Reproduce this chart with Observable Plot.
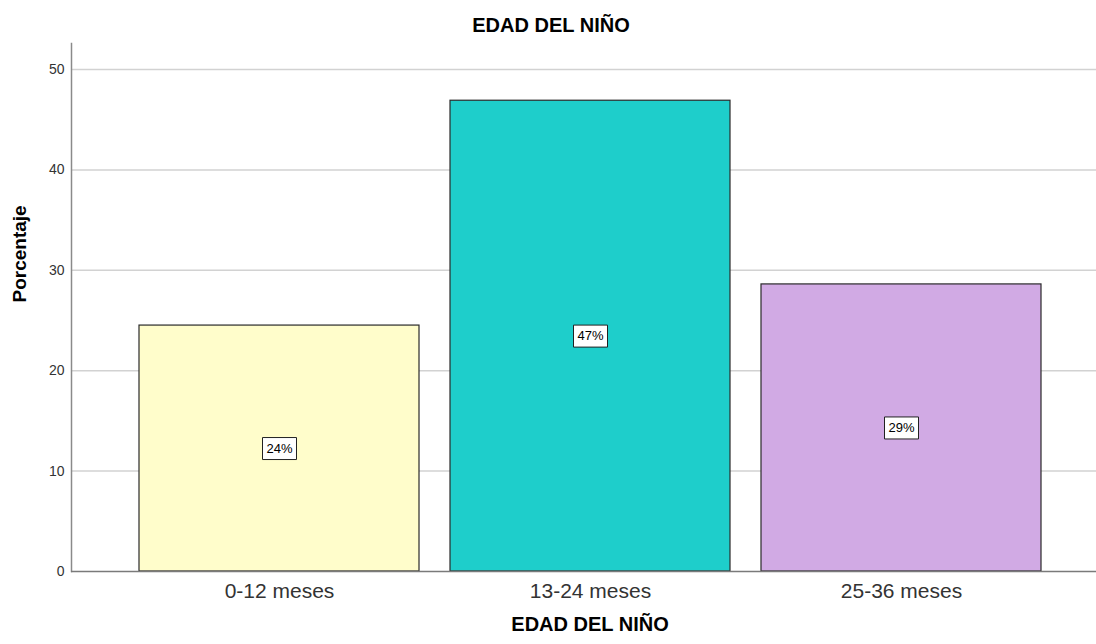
<!DOCTYPE html>
<html>
<head>
<meta charset="utf-8">
<script src="https://cdn.jsdelivr.net/npm/d3@7"></script>
<script src="https://cdn.jsdelivr.net/npm/@observablehq/plot@0.6"></script>
<style>
  html, body { margin: 0; padding: 0; background: #fff; }
  body { width: 1096px; height: 644px; overflow: hidden; font-family: "Liberation Sans", Arial, sans-serif; }
  #title { height: 43px; box-sizing: border-box; padding-top: 15px; line-height: 20px; font-size: 20px; font-weight: bold; text-align: center; color: #000; padding-left: 6px; }
  #chart svg { display: block; }
</style>
</head>
<body>
<div id="title">EDAD DEL NIÑO</div>
<div id="chart"></div>
<script>
const categories = ["0-12 meses", "13-24 meses", "25-36 meses"];
const percentages = [24.5, 46.9, 28.6];
const labels = ["24%", "47%", "29%"];
const colors = ["#FFFDCB", "#1ECECB", "#D1AAE4"];
const yTicks = [0, 10, 20, 30, 40, 50];
const xTitle = "EDAD DEL NIÑO";
const yTitle = "Porcentaje";

const data = categories.map((c, i) => ({category: c, value: percentages[i], label: labels[i], color: colors[i]}));

const boxSymbol = {
  draw(context) {
    context.moveTo(-17, -11);
    context.lineTo(17, -11);
    context.lineTo(17, 11);
    context.lineTo(-17, 11);
    context.closePath();
  }
};

const chart = Plot.plot({
  width: 1096,
  height: 601,
  marginTop: 0,
  marginLeft: 71,
  marginRight: 0,
  marginBottom: 73,
  style: {fontFamily: "'Liberation Sans', Arial, sans-serif", background: "#fff", overflow: "visible"},
  x: {type: "band", domain: categories, range: [138.5, 1040.5], paddingInner: 0.1, paddingOuter: 0, label: null},
  y: {domain: [0, 52.6], label: null},
  color: {type: "identity"},
  marks: [
    Plot.gridY(yTicks.filter(d => d > 0), {stroke: "#d2d2d2", strokeOpacity: 1, strokeWidth: 1.5}),
    Plot.barY(data, {x: "category", y: "value", fill: "color", stroke: "#2a2a2a", strokeWidth: 1.2}),
    Plot.frame({anchor: "left", stroke: "#8a8a8a", strokeWidth: 1.5}),
    Plot.ruleY([0], {stroke: "#7a7a7a", strokeWidth: 1.5}),
    Plot.axisY(yTicks, {tickSize: 0, tickPadding: 7, fontSize: 14, fill: "#333", label: null}),
    Plot.axisX({tickSize: 0, tickPadding: 12, fontSize: 21, fill: "#333", label: null}),
    Plot.dot(data, {x: "category", y: d => d.value / 2, symbol: boxSymbol, fill: "#fff", stroke: "#222", strokeWidth: 1}),
    Plot.text(data, {x: "category", y: d => d.value / 2, text: "label", fontSize: 13, fill: "#000"}),
    Plot.text([xTitle], {text: d => d, frameAnchor: "bottom", dx: 6, dy: 59, fontSize: 20, fontWeight: "bold", fill: "#000"}),
    Plot.text([yTitle], {text: d => d, frameAnchor: "left", rotate: -90, dx: -52, dy: -5, fontSize: 19, fontWeight: "bold", fill: "#000"})
  ]
});
document.getElementById("chart").appendChild(chart);
</script>
</body>
</html>
